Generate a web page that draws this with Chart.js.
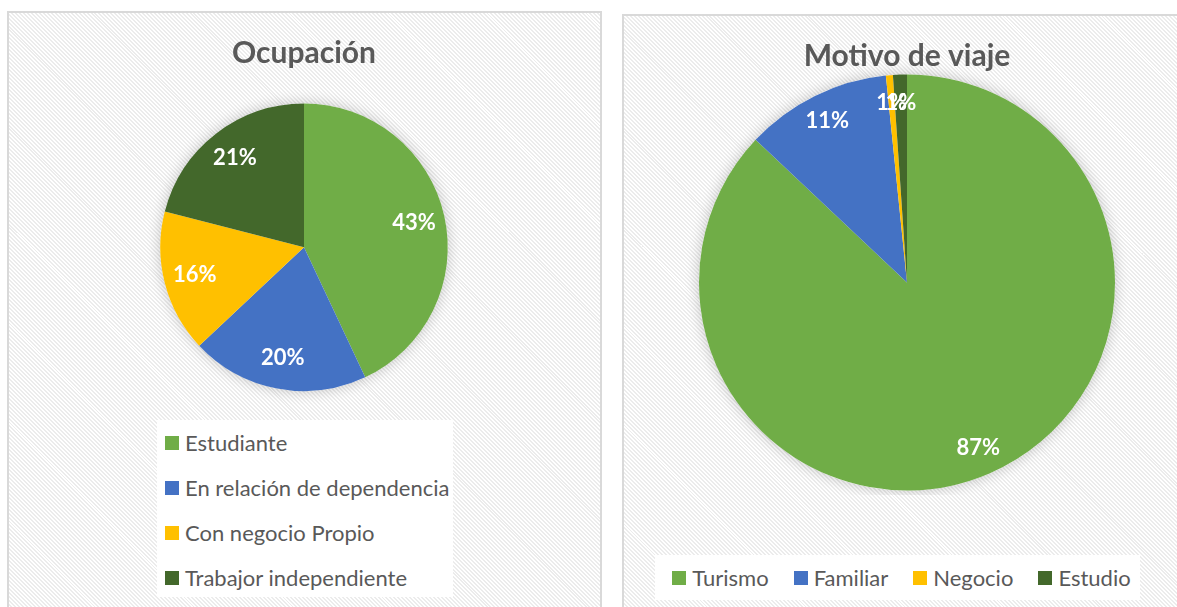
<!DOCTYPE html>
<html>
<head>
<meta charset="utf-8">
<script src="https://cdn.jsdelivr.net/npm/chart.js@4/dist/chart.umd.min.js"></script>
<style>
  body { margin: 0; width: 1177px; height: 607px; overflow: hidden; background: #fff; font-family: Lato, sans-serif; position: relative; }
  .panel { position: absolute; border: 2px solid #d9d9d9; box-sizing: border-box;
    background: repeating-linear-gradient(45deg, #ffffff 0 1.4px, #ececec 1.4px 2.8px); }
  canvas { position: absolute; }
  .legend { position: absolute; background: #fff; color: #595959; font-size: 22px; box-sizing: border-box; }
  .legend .item { display: flex; align-items: center; white-space: nowrap; }
  .legend .sw { width: 14px; height: 14px; margin-right: 6px; flex: none; }
  #legend1 { left: 157px; top: 420px; width: 296px; height: 177px; padding-left: 8px; }
  #legend1 .item { height: 45px; }
  #legend2 { left: 655px; top: 555px; width: 485px; height: 45px; display: flex; justify-content: center; align-items: center; gap: 25px; padding-left: 8px; }
</style>
</head>
<body>
<div class="panel" style="left:7px; top:11px; width:595px; height:610px;"></div>
<div class="panel" style="left:622px; top:14px; width:570px; height:610px;"></div>
<canvas id="chart1" width="592" height="400" style="left:8px; top:12px;"></canvas>
<canvas id="chart2" width="554" height="480" style="left:623px; top:15px;"></canvas>
<div class="legend" id="legend1"></div>
<div class="legend" id="legend2"></div>
<script>
// Ocupación
let ocupLabels = ['Estudiante', 'En relación de dependencia', 'Con negocio Propio', 'Trabajor independiente'];
let ocupData = [43, 20, 16, 21];
// Motivo de viaje
let motivoLabels = ['Turismo', 'Familiar', 'Negocio', 'Estudio'];
let motivoData = [161, 21, 1, 2];

let colors = ['#70AD47', '#4472C4', '#FFC000', '#43682B'];
let textColor = '#595959';

// percentages written on the slices
const sliceLabels = {
  id: 'sliceLabels',
  afterDatasetsDraw(chart, args, opts) {
    const ctx = chart.ctx;
    const meta = chart.getDatasetMeta(0);
    const values = chart.data.datasets[0].data;
    const total = values.reduce((a, b) => a + b, 0);
    ctx.save();
    ctx.fillStyle = '#fff';
    ctx.font = 'bold 22px Lato';
    ctx.textAlign = 'center';
    ctx.textBaseline = 'middle';
    meta.data.forEach((arc, i) => {
      const p = arc.getProps(['x', 'y', 'startAngle', 'endAngle', 'outerRadius'], true);
      const mid = (p.startAngle + p.endAngle) / 2;
      const d = p.outerRadius - opts.inset;
      const pct = Math.round(values[i] / total * 100) + '%';
      ctx.fillText(pct, p.x + Math.cos(mid) * d, p.y + Math.sin(mid) * d);
    });
    ctx.restore();
  }
};

// soft shadow behind the pie
const pieShadow = {
  id: 'pieShadow',
  beforeDatasetsDraw(chart) {
    const arc = chart.getDatasetMeta(0).data[0];
    if (!arc) return;
    const p = arc.getProps(['x', 'y', 'outerRadius'], true);
    const ctx = chart.ctx;
    ctx.save();
    ctx.shadowColor = 'rgba(0,0,0,0.22)';
    ctx.shadowBlur = 14;
    ctx.fillStyle = '#fff';
    ctx.beginPath();
    ctx.arc(p.x, p.y, p.outerRadius, 0, Math.PI * 2);
    ctx.fill();
    ctx.restore();
  }
};

function makePie(id, labels, data, title, titlePad, layoutPad, inset) {
  return new Chart(document.getElementById(id), {
    type: 'pie',
    data: {
      labels: labels,
      datasets: [{
        data: data,
        backgroundColor: colors,
        borderWidth: 0,
        hoverOffset: 0
      }]
    },
    options: {
      responsive: false,
      animation: false,
      layout: { padding: layoutPad },
      plugins: {
        title: {
          display: true,
          text: title,
          color: textColor,
          font: { family: 'Lato', size: 30, weight: 'bold' },
          padding: titlePad
        },
        legend: { display: false },
        tooltip: { enabled: false },
        sliceLabels: { inset: inset }
      }
    },
    plugins: [pieShadow, sliceLabels]
  });
}

makePie('chart1', ocupLabels, ocupData, 'Ocupación',
  { top: 23.5, bottom: 32 }, { top: 0, bottom: 21, left: 0, right: 0 }, 31);
makePie('chart2', motivoLabels, motivoData, 'Motivo de viaje',
  { top: 23.5, bottom: 0 }, { top: 0, bottom: 4.5, left: 14, right: 0 }, 28);

function buildLegend(id, labels) {
  const box = document.getElementById(id);
  labels.forEach((t, i) => {
    const item = document.createElement('div');
    item.className = 'item';
    const sw = document.createElement('span');
    sw.className = 'sw';
    sw.style.background = colors[i];
    item.appendChild(sw);
    item.appendChild(document.createTextNode(t));
    box.appendChild(item);
  });
}
buildLegend('legend1', ocupLabels);
buildLegend('legend2', motivoLabels);
</script>
</body>
</html>
